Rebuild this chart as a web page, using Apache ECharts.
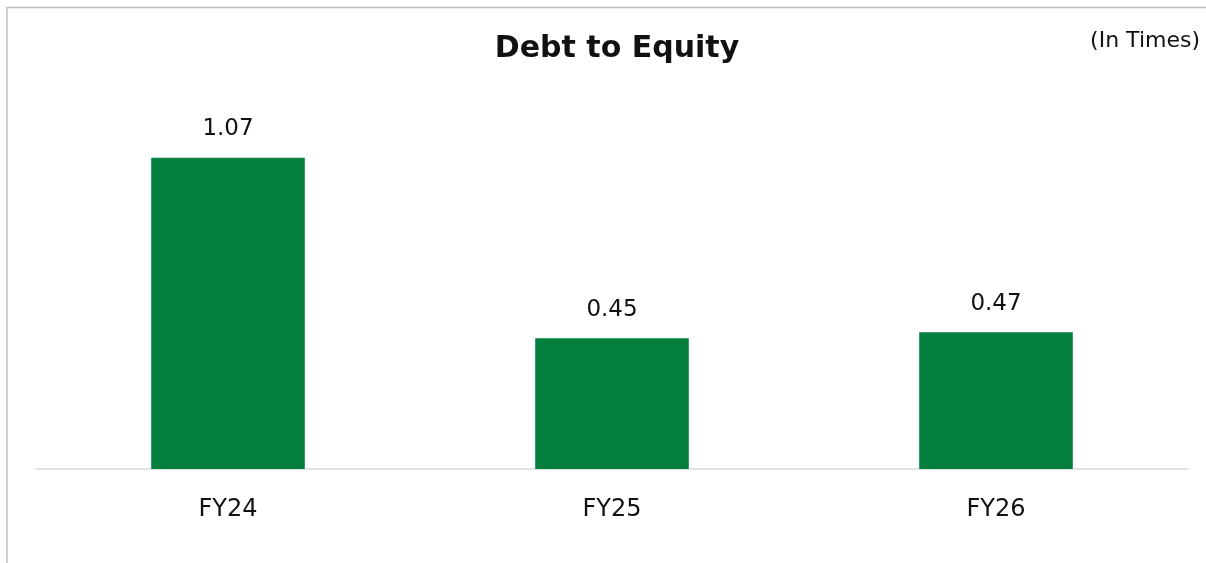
<!DOCTYPE html>
<html>
<head>
<meta charset="utf-8">
<script src="https://cdn.jsdelivr.net/npm/echarts@6/dist/echarts.min.js"></script>
<style>
  html, body { margin: 0; padding: 0; background: #fff; }
  #chart { width: 1206px; height: 563px; }
</style>
</head>
<body>
<div id="chart"></div>
<script>
// 数据
const categories = ['FY24', 'FY25', 'FY26'];
const debtEquity = [1.07, 0.45, 0.47];

const FONT = '"DejaVu Sans", "Noto Sans", sans-serif';
const chart = echarts.init(document.getElementById('chart'));

const option = {
  backgroundColor: '#ffffff',
  textStyle: { fontFamily: FONT },
  // 标题居中于绘图区
  title: {
    text: 'Debt to Equity',
    left: 612,
    textAlign: 'center',
    top: 29,
    textStyle: { fontSize: 30, fontWeight: 'bold', color: '#111', fontFamily: FONT }
  },
  // 外框 + 单位
  graphic: [
    {
      type: 'rect',
      shape: { x: 7, y: 7.5, width: 1400, height: 700 },
      style: { fill: 'none', stroke: '#bfbfbf', lineWidth: 1.5 },
      silent: true
    },
    {
      type: 'text',
      right: 6,
      top: 30,
      style: { text: '(In Times)', fontSize: 22, fill: '#111', fontFamily: FONT }
    }
  ],
  grid: { left: 36, right: 18, top: 120, bottom: 94 },
  xAxis: {
    type: 'category',
    data: categories,
    axisLine: { lineStyle: { color: '#d9d9d9', width: 1.5 } },
    axisTick: { show: false },
    axisLabel: { color: '#111', fontSize: 24, margin: 29, fontFamily: FONT }
  },
  yAxis: {
    type: 'value',
    min: 0,
    max: 1.2,
    show: false,
    splitLine: { show: false }
  },
  series: [
    {
      type: 'bar',
      data: debtEquity,
      barWidth: '40%',
      itemStyle: { color: '#047F3E' },
      label: {
        show: true,
        position: 'top',
        distance: 17,
        fontSize: 23,
        color: '#111',
        fontFamily: FONT,
        formatter: (p) => p.value.toFixed(2)
      }
    }
  ]
};

chart.setOption(option);
window.addEventListener('resize', () => chart.resize());
</script>
</body>
</html>
